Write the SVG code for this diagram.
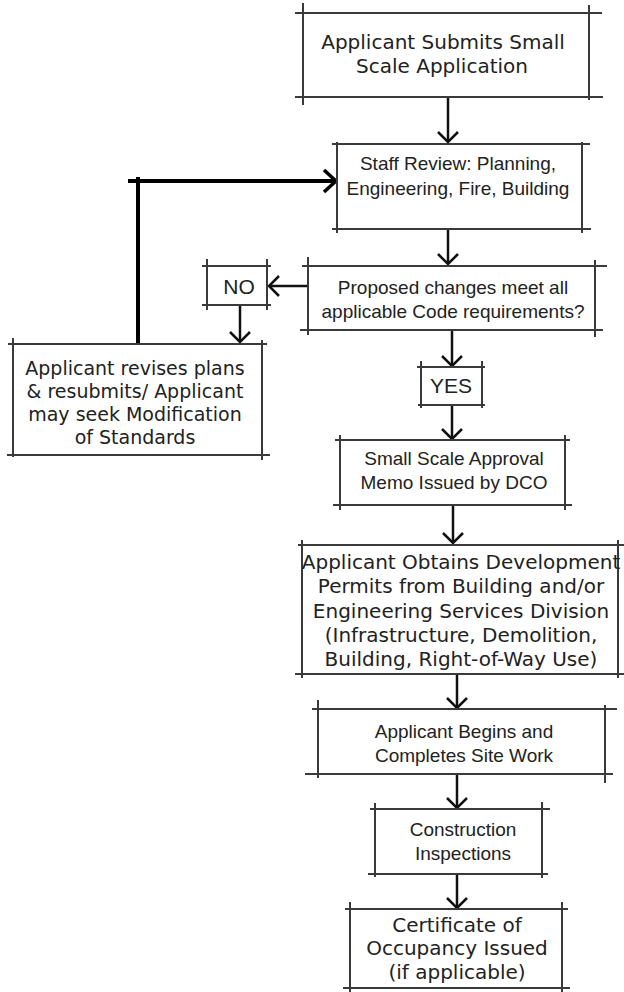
<svg xmlns="http://www.w3.org/2000/svg" width="624" height="992" viewBox="0 0 624 992">
<style>
.bx line{stroke:#3a3a3a;stroke-width:2;}
.dv{font-family:"DejaVu Sans",Verdana,sans-serif;font-size:20px;fill:#222;text-anchor:middle;}
.ar{font-family:"Liberation Sans",Arial,sans-serif;font-size:19px;fill:#222;text-anchor:middle;}
.c{stroke:#111;stroke-width:2.5;fill:none;marker-end:url(#ah);}
.fb{stroke:#000;stroke-width:4;fill:none;}
</style>
<defs>
<marker id="ah" markerUnits="userSpaceOnUse" viewBox="-13 -12 15 24" refX="0" refY="0" markerWidth="15" markerHeight="24" orient="auto">
<path d="M-10,-10 L0,0 L-10,10" fill="none" stroke="#111" stroke-width="2.5"/>
</marker>
<marker id="ahb" markerUnits="userSpaceOnUse" viewBox="-15 -14 17 28" refX="0" refY="0" markerWidth="17" markerHeight="28" orient="auto">
<path d="M-12,-11 L0,0 L-12,11" fill="none" stroke="#000" stroke-width="3.5"/>
</marker>
</defs>

<g id="connectors">
<line class="c" x1="448" y1="97" x2="448" y2="142"/>
<line class="c" x1="448" y1="229" x2="448" y2="264"/>
<line class="c" x1="308" y1="286" x2="269" y2="286"/>
<line class="c" x1="240" y1="305" x2="240" y2="342"/>
<line class="c" x1="452" y1="330" x2="452" y2="366"/>
<line class="c" x1="452" y1="405" x2="452" y2="439"/>
<line class="c" x1="453" y1="505" x2="453" y2="543"/>
<line class="c" x1="457" y1="674" x2="457" y2="708"/>
<line class="c" x1="457" y1="774" x2="457" y2="808"/>
<line class="c" x1="457" y1="874" x2="457" y2="908"/>
<polyline class="fb" points="138,344 138,177"/>
<line class="fb" x1="128" y1="181" x2="336" y2="181" marker-end="url(#ahb)"/>
</g>

<g id="n1" class="bx">
<line x1="295" y1="13" x2="602" y2="13"/><line x1="295" y1="97" x2="603" y2="97"/>
<line x1="303" y1="3" x2="303" y2="105"/><line x1="589" y1="5" x2="589" y2="100"/>
<text class="dv" x="443" y="49">Applicant Submits Small</text>
<text class="dv" x="442" y="73">Scale Application</text>
</g>

<g id="n2" class="bx">
<line x1="332" y1="144" x2="590" y2="144"/><line x1="332" y1="229" x2="591" y2="229"/>
<line x1="337" y1="142" x2="337" y2="233"/><line x1="582" y1="142" x2="582" y2="233"/>
<text class="ar" x="458" y="170">Staff Review: Planning,</text>
<text class="ar" x="458" y="195">Engineering, Fire, Building</text>
</g>

<g id="n3" class="bx">
<line x1="302" y1="266" x2="607" y2="266"/><line x1="300" y1="330" x2="603" y2="330"/>
<line x1="308" y1="257" x2="308" y2="335"/><line x1="595" y1="260" x2="595" y2="337"/>
<text class="ar" x="453" y="294">Proposed changes meet all</text>
<text class="ar" x="453" y="318">applicable Code requirements?</text>
</g>

<g id="n4" class="bx">
<line x1="202" y1="266" x2="271" y2="266"/><line x1="202" y1="305" x2="271" y2="305"/>
<line x1="207" y1="259" x2="207" y2="310"/><line x1="267" y1="259" x2="267" y2="310"/>
<text class="ar" x="239" y="294" style="font-size:21px">NO</text>
</g>

<g id="n5" class="bx">
<line x1="8" y1="344" x2="267" y2="344"/><line x1="7" y1="455" x2="270" y2="455"/>
<line x1="13" y1="338" x2="13" y2="457"/><line x1="262" y1="340" x2="262" y2="460"/>
<text class="dv" x="135" y="375" style="font-size:19px">Applicant revises plans</text>
<text class="dv" x="135" y="398" style="font-size:19px">&amp; resubmits/ Applicant</text>
<text class="dv" x="135" y="421" style="font-size:19px">may seek Modification</text>
<text class="dv" x="135" y="444" style="font-size:19px">of Standards</text>
</g>

<g id="n6" class="bx">
<line x1="417" y1="367" x2="485" y2="367"/><line x1="418" y1="405" x2="485" y2="405"/>
<line x1="421" y1="361" x2="421" y2="408"/><line x1="482" y1="361" x2="482" y2="408"/>
<text class="ar" x="451" y="393" style="font-size:21px">YES</text>
</g>

<g id="n7" class="bx">
<line x1="335" y1="440" x2="570" y2="440"/><line x1="333" y1="505" x2="572" y2="505"/>
<line x1="340" y1="435" x2="340" y2="510"/><line x1="565" y1="435" x2="565" y2="510"/>
<text class="ar" x="454" y="465">Small Scale Approval</text>
<text class="ar" x="454" y="489">Memo Issued by DCO</text>
</g>

<g id="n8" class="bx">
<line x1="298" y1="545" x2="624" y2="545"/><line x1="295" y1="674" x2="624" y2="674"/>
<line x1="302" y1="540" x2="302" y2="678"/><line x1="618" y1="540" x2="618" y2="678"/>
<text class="dv" x="461" y="569">Applicant Obtains Development</text>
<text class="dv" x="461" y="593">Permits from Building and/or</text>
<text class="dv" x="461" y="618">Engineering Services Division</text>
<text class="dv" x="461" y="642">(Infrastructure, Demolition,</text>
<text class="dv" x="461" y="666">Building, Right-of-Way Use)</text>
</g>

<g id="n9" class="bx">
<line x1="312" y1="709" x2="617" y2="709"/><line x1="305" y1="774" x2="613" y2="774"/>
<line x1="318" y1="700" x2="318" y2="778"/><line x1="605" y1="705" x2="605" y2="783"/>
<text class="ar" x="464" y="738">Applicant Begins and</text>
<text class="ar" x="464" y="762">Completes Site Work</text>
</g>

<g id="n10" class="bx">
<line x1="370" y1="809" x2="550" y2="809"/><line x1="368" y1="874" x2="548" y2="874"/>
<line x1="375" y1="803" x2="375" y2="877"/><line x1="542" y1="802" x2="542" y2="878"/>
<text class="ar" x="463" y="836">Construction</text>
<text class="ar" x="463" y="860">Inspections</text>
</g>

<g id="n11" class="bx">
<line x1="345" y1="909" x2="568" y2="909"/><line x1="343" y1="988" x2="570" y2="988"/>
<line x1="350" y1="902" x2="350" y2="992"/><line x1="562" y1="902" x2="562" y2="992"/>
<text class="dv" x="457" y="932">Certificate of</text>
<text class="dv" x="457" y="955">Occupancy Issued</text>
<text class="dv" x="457" y="979">(if applicable)</text>
</g>
</svg>
